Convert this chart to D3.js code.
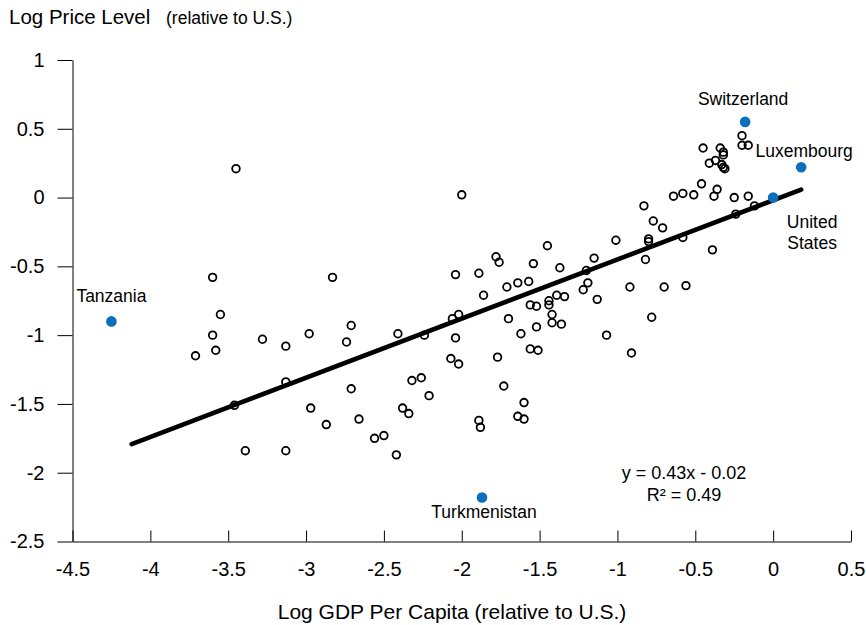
<!DOCTYPE html>
<html>
<head>
<meta charset="utf-8">
<script src="https://cdn.jsdelivr.net/npm/d3@7"></script>
<style>
  body { margin: 0; background: #fff; }
  svg { display: block; font-family: "Liberation Sans", Arial, sans-serif; }
  .axis path, .axis line { stroke: #000; stroke-width: 1; }
  .axis text { font-size: 20px; fill: #000; font-family: "Liberation Sans", Arial, sans-serif; }
</style>
</head>
<body>
<svg id="chart" width="866" height="625"></svg>
<script>

/////// Data ///////

var xTicks = [-4.5, -4, -3.5, -3, -2.5, -2, -1.5, -1, -0.5, 0, 0.5];
var yTicks = [-2.5, -2, -1.5, -1, -0.5, 0, 0.5, 1];

// log GDP per capita vs log price level, both relative to the U.S.
var gdp = [-3.45, -3.60, -3.55, -3.60, -3.58, -3.71, -3.28, -3.13, -2.98, -3.13,
           -3.46, -2.97, -3.39, -3.13, -2.00, -2.83, -1.45, -1.78, -1.76, -1.54,
           -2.04, -1.89, -1.37, -1.15, -1.20, -1.19, -1.22, -1.13, -1.64, -1.57,
           -1.71, -1.86, -1.39, -1.34, -1.44, -1.44, -1.56, -1.52, -1.42, -1.42,
           -1.36, -1.52, -1.70, -2.02, -2.06, -1.62, -2.04, -2.24, -2.41, -2.71,
           -2.74, -1.56, -1.51, -1.77, -2.07, -2.02, -2.71, -2.87, -2.66, -2.56,
           -2.50, -2.32, -2.26, -2.21, -2.38, -2.34, -1.73, -1.60, -1.64, -1.60,
           -1.89, -1.88, -2.42, -0.41, -0.45, -0.34, -0.32, -0.32, -0.37, -0.33,
           -0.32, -0.31, -0.20, -0.20, -0.16, -0.46, -0.36, -0.38, -0.64, -0.58,
           -0.51, -0.25, -0.16, -0.12, -0.24, -0.83, -0.77, -0.71, -1.01, -0.80,
           -0.80, -0.58, -0.39, -0.82, -0.92, -0.70, -0.56, -1.07, -0.78, -0.91];
var price = [0.21, -0.58, -0.85, -1.00, -1.11, -1.15, -1.03, -1.08, -0.99, -1.34,
             -1.51, -1.53, -1.84, -1.84, 0.02, -0.58, -0.35, -0.43, -0.47, -0.48,
             -0.56, -0.55, -0.51, -0.44, -0.53, -0.62, -0.67, -0.74, -0.62, -0.61,
             -0.65, -0.71, -0.71, -0.72, -0.75, -0.78, -0.78, -0.79, -0.85, -0.91,
             -0.92, -0.94, -0.88, -0.85, -0.88, -0.99, -1.02, -1.00, -0.99, -0.93,
             -1.05, -1.10, -1.11, -1.16, -1.17, -1.21, -1.39, -1.65, -1.61, -1.75,
             -1.73, -1.33, -1.31, -1.44, -1.53, -1.57, -1.37, -1.49, -1.59, -1.61,
             -1.62, -1.67, -1.87, 0.25, 0.36, 0.36, 0.33, 0.31, 0.27, 0.24,
             0.22, 0.21, 0.45, 0.38, 0.38, 0.10, 0.06, 0.01, 0.01, 0.03,
             0.02, 0.00, 0.01, -0.06, -0.12, -0.06, -0.17, -0.22, -0.31, -0.30,
             -0.32, -0.29, -0.38, -0.45, -0.65, -0.65, -0.64, -1.00, -0.87, -1.13];

// highlighted countries
var hlNames = ["Tanzania", "Switzerland", "Luxembourg", "United States", "Turkmenistan"];
var hlGdp = [-4.25, -0.18, 0.18, 0, -1.87];
var hlPrice = [-0.90, 0.55, 0.22, 0, -2.18];

// fitted line y = 0.43x - 0.02
var fitSlope = 0.43, fitIntercept = -0.02;
var fitRange = [-4.12, 0.18];
var fitText = ["y = 0.43x - 0.02", "R\u00b2 = 0.49"];


/////// Chart ///////

var svg = d3.select("#chart");

svg.append("rect").attr("width", 866).attr("height", 625).attr("fill", "#fff");

var x = d3.scaleLinear().domain([-4.5, 0.5]).range([72.5, 851]),
    y = d3.scaleLinear().domain([-2.5, 1]).range([541.5, 60]);

var xAxis = d3.axisBottom(x).tickValues(xTicks).tickFormat(function(d) { return String(d); })
    .tickSizeInner(-11).tickSizeOuter(0).tickPadding(20);
var yAxis = d3.axisLeft(y).tickValues(yTicks).tickFormat(function(d) { return String(d); })
    .tickSizeInner(15).tickSizeOuter(0).tickPadding(13);

svg.append("g")
    .attr("class", "axis")
    .attr("transform", "translate(0," + y(-2.5) + ")")
    .call(xAxis);

svg.append("g")
    .attr("class", "axis")
    .attr("transform", "translate(" + x(-4.5) + ",0)")
    .call(yAxis);

svg.selectAll(".axis .domain").attr("stroke", "#000");

// titles
svg.append("text")
    .attr("x", 9).attr("y", 24)
    .attr("font-size", "20.5px")
    .text("Log Price Level");
svg.append("text")
    .attr("x", 166).attr("y", 24)
    .attr("font-size", "17.5px")
    .text("(relative to U.S.)");

svg.append("text")
    .attr("x", 452).attr("y", 619)
    .attr("text-anchor", "middle")
    .attr("font-size", "21px")
    .text("Log GDP Per Capita (relative to U.S.)");

// fitted line
svg.append("line")
    .attr("x1", x(fitRange[0]))
    .attr("y1", y(fitSlope * fitRange[0] + fitIntercept))
    .attr("x2", x(fitRange[1]))
    .attr("y2", y(fitSlope * fitRange[1] + fitIntercept))
    .attr("stroke", "#000")
    .attr("stroke-width", 4.6)
    .attr("stroke-linecap", "round");

// all countries
svg.append("g").selectAll("circle")
    .data(d3.range(gdp.length))
    .enter().append("circle")
    .attr("cx", function(i) { return x(gdp[i]); })
    .attr("cy", function(i) { return y(price[i]); })
    .attr("r", 3.8)
    .attr("fill", "none")
    .attr("stroke", "#000")
    .attr("stroke-width", 1.8);

// highlighted
svg.append("g").selectAll("circle")
    .data(d3.range(hlNames.length))
    .enter().append("circle")
    .attr("cx", function(i) { return x(hlGdp[i]); })
    .attr("cy", function(i) { return y(hlPrice[i]); })
    .attr("r", 5.3)
    .attr("fill", "#0a6fbd");

// label offsets from the dot, in pixels
var labelPos = {
    "Tanzania": [0, -26],
    "Switzerland": [-2, -23],
    "Luxembourg": [3, -16],
    "United States": [39, 24],
    "Turkmenistan": [2, 14]
};

hlNames.forEach(function(n, i) {
    var p = labelPos[n];
    var lines = n == "United States" ? ["United", "States"] : [n];
    lines.forEach(function(l, j) {
        svg.append("text")
            .attr("x", x(hlGdp[i]) + p[0])
            .attr("y", y(hlPrice[i]) + p[1] + j * 21)
            .attr("dy", "0.35em")
            .attr("text-anchor", "middle")
            .attr("font-size", "17.5px")
            .text(l);
    });
});

// regression text
fitText.forEach(function(t, j) {
    svg.append("text")
        .attr("x", 684)
        .attr("y", 473 + j * 21.5)
        .attr("dy", "0.35em")
        .attr("text-anchor", "middle")
        .attr("font-size", "18px")
        .text(t);
});

</script>
</body>
</html>
